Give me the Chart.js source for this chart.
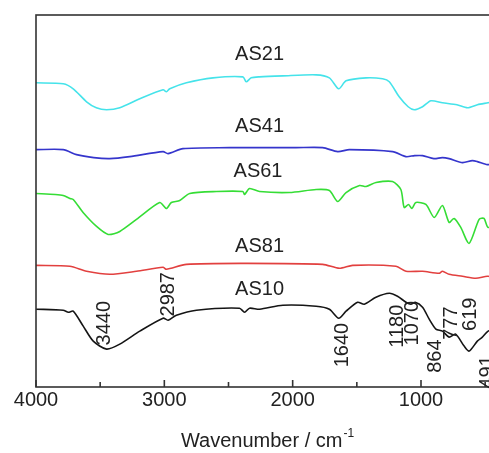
<!DOCTYPE html>
<html>
<head>
<meta charset="utf-8">
<script src="https://cdn.jsdelivr.net/npm/chart.js@4.4.1/dist/chart.umd.min.js"></script>
<style>
  html, body { margin: 0; padding: 0; background: #fff; overflow: hidden; }
  #wrap { width: 500px; height: 453px; }
</style>
</head>
<body>
<div id="wrap"><canvas id="ftir"></canvas></div>
<script>
// --- data: [wavenumber (cm-1), transmittance (a.u., offset per curve)] ---
const as21 = [[4000,305],[3788,304],[3710,299],[3606,286],[3530,280],[3450,278],[3347,280],[3191,289],[3010,298],[2984,296],[2958,299],
  [2828,305],[2621,310],[2388,311],[2362,306],[2323,310],[2258,311],[2077,312],[1817,313],[1714,310],[1641,299],[1584,307],[1428,310],
  [1299,309],[1247,306],[1170,291],[1100,281],[1053,278],[988,281],[923,287],[833,285],[720,283],[638,280],[560,283],[477,285],[400,287]];

const as41 = [[4000,238],[3788,238],[3684,233],[3550,230],[3425,229],[3269,231],[3010,236],[2971,234],[2855,239],[2491,240],[2349,240],
  [1973,240],[1766,240],[1649,236],[1558,238],[1221,236],[1117,231],[1050,232],[988,232],[900,229],[833,230],[781,229],[677,225],
  [600,227],[560,226],[483,223],[400,224]];

const as61 = [[4000,194],[3850,193],[3788,192],[3736,189],[3710,188],[3633,175],[3528,161],[3438,153],[3347,156],[3217,168],[3036,185],
  [2984,179],[2945,185],[2880,187],[2802,194],[2595,196],[2388,196],[2375,193],[2336,199],[2258,196],[2025,195],[1817,198],[1714,197],
  [1649,186],[1584,195],[1479,202],[1428,201],[1351,205],[1222,206],[1157,198],[1131,180],[1097,183],[1071,179],[1040,185],[962,183],
  [897,170],[833,182],[781,165],[742,169],[690,160],[625,144],[547,168],[509,169],[477,160],[400,165]];

const as81 = [[4000,122],[3736,121],[3606,116],[3425,113],[3217,116],[3010,120],[2984,118],[2828,123],[2362,124],[1766,123],[1636,119],
  [1533,122],[1195,121],[1117,116],[988,116],[860,114],[833,116],[781,113],[677,111],[573,109],[483,111],[400,110]];

const as10 = [[4000,78],[3788,77],[3748,75],[3710,76],[3632,61],[3554,46],[3450,38],[3347,43],[3191,56],[3010,69],[2971,67],[2906,72],
  [2750,77],[2414,79],[2375,75],[2336,79],[2258,78],[2077,82],[1817,81],[1714,78],[1641,69],[1584,76],[1494,85],[1442,83],[1351,90],
  [1247,94],[1183,91],[1117,85],[1079,83],[1045,85],[988,80],[936,68],[884,58],[833,56],[781,50],[730,53],[664,41],[625,36],
  [561,46],[522,50],[477,56],[400,60]];

const seriesNames = ['AS21', 'AS41', 'AS61', 'AS81', 'AS10'];
const seriesColors = ['#45e3ea', '#3535cc', '#35dd35', '#e2403f', '#151515'];
// where each sample name is written: [wavenumber, a.u.]
const seriesLabelPos = [[2258,333],[2258,261],[2270,216],[2258,141],[2258,98]];

// band assignments written vertically
const peakText = ['3440', '2987', '1640', '1180', '1070', '864', '777', '619', '491'];
const peakPos = [[3471,64],[2977,93],[1621,42],[1189,61],[1072,64],[893,31],[769,64],[621,73],[489,15]];

const xTicks = [4000, 3000, 2000, 1000];

const FONT = '"Liberation Sans", Arial, sans-serif';
const INK = '#222';

const decor = {
  id: 'decor',
  afterDraw(chart) {
    const { ctx, chartArea: a, scales } = chart;
    const xs = scales.x, ys = scales.y;
    ctx.save();
    // frame
    ctx.strokeStyle = '#333';
    ctx.lineWidth = 1.6;
    ctx.strokeRect(a.left, a.top, a.right - a.left, a.bottom - a.top);
    // inward tick marks, major every 1000, minor every 500
    for (let v = 500; v <= 4000; v += 500) {
      const x = xs.getPixelForValue(v);
      const len = v % 1000 === 0 ? 7 : 5;
      ctx.beginPath();
      ctx.moveTo(x, a.bottom);
      ctx.lineTo(x, a.bottom - len);
      ctx.stroke();
    }
    ctx.fillStyle = INK;
    ctx.font = '20px ' + FONT;
    ctx.textAlign = 'center';
    ctx.textBaseline = 'middle';
    seriesNames.forEach((name, i) => {
      const p = seriesLabelPos[i];
      ctx.fillText(name, xs.getPixelForValue(p[0]), ys.getPixelForValue(p[1]));
    });
    peakText.forEach((t, i) => {
      const p = peakPos[i];
      ctx.save();
      ctx.translate(xs.getPixelForValue(p[0]), ys.getPixelForValue(p[1]));
      ctx.rotate(-Math.PI / 2);
      ctx.fillText(t, 0, 1);
      ctx.restore();
    });
    // axis title with superscript
    const main = 'Wavenumber / cm', sup = '-1';
    ctx.font = '20px ' + FONT;
    const w1 = ctx.measureText(main).width;
    ctx.font = '12px ' + FONT;
    const w2 = ctx.measureText(sup).width;
    const cx = (a.left + a.right) / 2;
    const x0 = cx - (w1 + w2) / 2;
    const base = a.bottom + 60;
    ctx.textAlign = 'left';
    ctx.textBaseline = 'alphabetic';
    ctx.font = '20px ' + FONT;
    ctx.fillText(main, x0, base);
    ctx.font = '12px ' + FONT;
    ctx.fillText(sup, x0 + w1 + 1, base - 10);
    ctx.restore();
  }
};

const toPts = arr => arr.map(p => ({ x: p[0], y: p[1] }));
const allSeries = [as21, as41, as61, as81, as10];

new Chart(document.getElementById('ftir'), {
  type: 'line',
  data: {
    datasets: allSeries.map((s, i) => ({
      label: seriesNames[i],
      data: toPts(s),
      borderColor: seriesColors[i],
      borderWidth: 1.6,
      pointRadius: 0,
      tension: 0.25,
      fill: false
    }))
  },
  options: {
    responsive: true,
    maintainAspectRatio: false,
    animation: false,
    layout: { padding: { left: 36, top: 15, right: 2, bottom: 40 } },
    plugins: { legend: { display: false }, tooltip: { enabled: false } },
    scales: {
      x: {
        type: 'linear',
        reverse: true,
        min: 400,
        max: 4000,
        afterBuildTicks: scale => { scale.ticks = xTicks.map(v => ({ value: v })); },
        grid: { display: false, drawTicks: false },
        border: { display: false },
        ticks: {
          autoSkip: false,
          maxRotation: 0,
          padding: 1,
          color: INK,
          font: { family: FONT, size: 20 },
          callback: v => String(v)
        }
      },
      y: { display: false, min: 0, max: 373 }
    }
  },
  plugins: [decor]
});
</script>
</body>
</html>
